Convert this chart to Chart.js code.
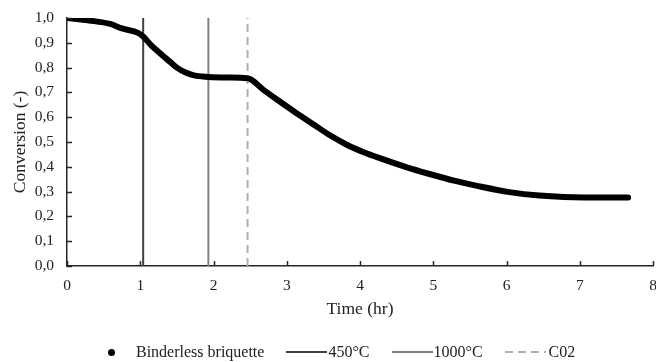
<!DOCTYPE html>
<html>
<head>
<meta charset="utf-8">
<script src="https://cdn.jsdelivr.net/npm/chart.js@4.4.1/dist/chart.umd.min.js"></script>
<style>
  html, body { margin: 0; padding: 0; background: #fff; }
  #wrap { position: relative; width: 656px; height: 362px; }
  #legend {
    position: absolute; left: 108px; top: 342px; height: 20px;
    display: flex; align-items: center;
    font-family: "Liberation Serif", "Times New Roman", serif; font-size: 16px; color: #222;
  }
  .dot { width: 7px; height: 7px; border-radius: 50%; background: #000; margin-right: 21px; }
  .ln { width: 41px; height: 2px; margin-left: 22px; margin-right: 1px; }
  .dash { background: repeating-linear-gradient(90deg, #b0b0b0 0 8px, transparent 8px 13px); margin-right: 3px; }
</style>
</head>
<body>
<div id="wrap">
  <canvas id="conversionChart" width="656" height="362"></canvas>
  <div id="legend">
    <span class="dot"></span><span>Binderless briquette</span>
    <span class="ln" style="background:#404040"></span><span>450°C</span>
    <span class="ln" style="background:#808080"></span><span>1000°C</span>
    <span class="ln dash"></span><span>C02</span>
  </div>
</div>
<script>
const timeHr = [0, 0.3, 0.59, 0.75, 0.97, 1.04, 1.15, 1.27, 1.4, 1.5, 1.62, 1.72, 1.85, 1.93, 2.2, 2.465,
                2.7, 2.9, 3.1, 3.36, 3.59, 3.82, 4.05, 4.27, 4.63, 4.95, 5.3, 5.63, 6.04, 6.45, 6.91, 7.3, 7.66];
const conversion = [1.0, 0.99, 0.976, 0.958, 0.94, 0.925, 0.89, 0.858, 0.825, 0.80, 0.78, 0.77, 0.764, 0.762, 0.76, 0.757,
                    0.706, 0.664, 0.623, 0.572, 0.527, 0.489, 0.459, 0.435, 0.399, 0.371, 0.343, 0.321, 0.298, 0.284, 0.277, 0.276, 0.276];
const markerTimes = [1.04, 1.93, 2.465];
const markerLabels = ['450°C', '1000°C', 'C02'];
const xTicks = [0, 1, 2, 3, 4, 5, 6, 7, 8];
const yTicks = [0, 0.1, 0.2, 0.3, 0.4, 0.5, 0.6, 0.7, 0.8, 0.9, 1.0];

const axisColor = '#262626';
const serif = 'Liberation Serif';

// inside tick marks like the excel original
const innerTicks = {
    id: 'innerTicks',
    afterDatasetsDraw(chart) {
        const ctx = chart.ctx;
        const xs = chart.scales.x, ys = chart.scales.y;
        const area = chart.chartArea;
        ctx.save();
        ctx.strokeStyle = axisColor;
        ctx.lineWidth = 1.5;
        ctx.beginPath();
        xTicks.forEach(v => {
            const px = Math.round(xs.getPixelForValue(v)) + 0.5;
            ctx.moveTo(px, area.bottom);
            ctx.lineTo(px, area.bottom - 5);
        });
        yTicks.forEach(v => {
            const py = Math.round(ys.getPixelForValue(v)) + 0.5;
            ctx.moveTo(area.left, py);
            ctx.lineTo(area.left + 5, py);
        });
        ctx.stroke();
        ctx.restore();
    }
};

const markerStyles = [
    { color: '#404040', dash: [] },
    { color: '#808080', dash: [] },
    { color: '#b0b0b0', dash: [8, 5] }
];

const markerSets = markerTimes.map((t, i) => ({
    label: markerLabels[i],
    data: [{ x: t, y: 0 }, { x: t, y: 1 }],
    showLine: true,
    borderColor: markerStyles[i].color,
    borderDash: markerStyles[i].dash,
    borderWidth: 2,
    pointRadius: 0,
    order: 2
}));

const ctx = document.getElementById('conversionChart').getContext('2d');
new Chart(ctx, {
    type: 'scatter',
    data: {
        datasets: [{
            label: 'Binderless briquette',
            data: timeHr.map((t, i) => ({ x: t, y: conversion[i] })),
            showLine: true,
            borderColor: '#000',
            backgroundColor: '#000',
            borderWidth: 6,
            borderCapStyle: 'round',
            borderJoinStyle: 'round',
            cubicInterpolationMode: 'monotone',
            pointRadius: 0,
            order: 1
        }, ...markerSets]
    },
    plugins: [innerTicks],
    options: {
        responsive: false,
        animation: false,
        layout: { padding: { top: 18, right: 3, left: 0, bottom: 36 } },
        plugins: {
            legend: { display: false },
            tooltip: { enabled: false }
        },
        scales: {
            x: {
                type: 'linear',
                min: 0, max: 8,
                afterBuildTicks: s => { s.ticks = xTicks.map(v => ({ value: v })); },
                afterFit: s => { s.height = 60; s.paddingLeft = 0; s.paddingRight = 0; },
                grid: { display: false, drawTicks: false },
                border: { color: axisColor, width: 1.5 },
                ticks: { color: '#222', padding: 11, maxRotation: 0, font: { family: serif, size: 15.5 } },
                title: {
                    display: true, text: 'Time (hr)', color: '#222',
                    font: { family: serif, size: 17.5 }, padding: { top: 0, bottom: 6 }
                }
            },
            y: {
                type: 'linear',
                min: 0, max: 1,
                afterBuildTicks: s => { s.ticks = yTicks.map(v => ({ value: v })); },
                afterFit: s => { s.width = 67; s.paddingTop = 0; s.paddingBottom = 0; },
                grid: { display: false, drawTicks: false },
                border: { color: axisColor, width: 1.5 },
                ticks: {
                    color: '#222', padding: 13, font: { family: serif, size: 15.5 },
                    callback: v => v.toFixed(1).replace('.', ',')
                },
                title: {
                    display: true, text: 'Conversion (-)', color: '#222',
                    font: { family: serif, size: 17.5 }, padding: { top: 9.5, bottom: 0 }
                }
            }
        }
    }
});
</script>
</body>
</html>
